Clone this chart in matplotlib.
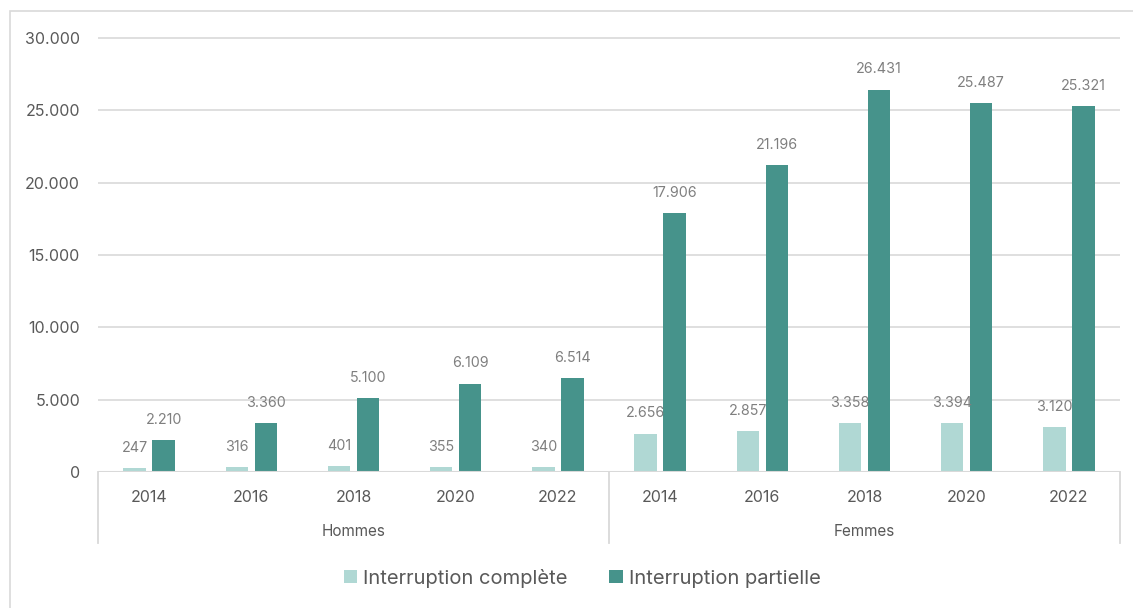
import matplotlib.pyplot as plt
from matplotlib.patches import Rectangle
from matplotlib.transforms import blended_transform_factory
import numpy as np

plt.rcParams['font.family'] = ['Inter', 'DejaVu Sans']

years = ['2014', '2016', '2018', '2020', '2022']
groups = ['Hommes', 'Femmes']
complete_h = [247, 316, 401, 355, 340]
partial_h = [2210, 3360, 5100, 6109, 6514]
complete_f = [2656, 2857, 3358, 3394, 3120]
partial_f = [17906, 21196, 26431, 25487, 25321]

light = '#b0d8d4'
dark = '#46938b'
grid_c = '#d9d9d9'
txt = '#595959'
lbl = '#7f7f7f'

def fmt(v):
    return f'{v:,}'.replace(',', '.')

complete = complete_h + complete_f
partial = partial_h + partial_f
x = np.arange(len(complete))

fig = plt.figure(figsize=(11.33, 6.08), dpi=100)
fig.patches.append(Rectangle((10/1133, -0.1), 1.2, (608-11)/608 + 0.1,
                             transform=fig.transFigure, fill=False,
                             edgecolor='#d9d9d9', lw=1.2))
ax = fig.add_axes([98/1133, 136/608, 1022/1133, 448.5/608])

off = 0.142
w = 0.218
b1 = ax.bar(x - off, complete, w, color=light, label='Interruption complète', zorder=3)
b2 = ax.bar(x + off, partial, w, color=dark, label='Interruption partielle', zorder=3)

for bars, vals in [(b1, complete), (b2, partial)]:
    for r, v in zip(bars, vals):
        ax.annotate(fmt(v), (r.get_x() + r.get_width()/2, v), xytext=(0, 14.5),
                    textcoords='offset points', ha='center', va='center',
                    fontsize=10.3, color=lbl)

ax.set_xlim(-0.5, 9.5)
ax.set_ylim(0, 31000)
ax.set_yticks(range(0, 30001, 5000))
ax.set_yticklabels([fmt(v) for v in range(0, 30001, 5000)], fontsize=11.5, color=txt)
ax.tick_params(axis='y', length=0, pad=13)
ax.set_xticks([])
ax.grid(axis='y', color=grid_c, lw=1.2, zorder=0)
for s in ax.spines.values():
    s.set_visible(False)
ax.axhline(0, color=grid_c, lw=1.5, zorder=4)

tr = blended_transform_factory(ax.transData, ax.transAxes)
for i, xi in enumerate(x):
    ax.text(xi, -25/448.5, years[i % 5], transform=tr, ha='center', va='center',
            fontsize=11.5, color=txt)
for g, name in enumerate(groups):
    ax.text(g*5 + 2, -60/448.5, name, transform=tr, ha='center', va='center',
            fontsize=11, color=txt)
for xs in [-0.5, 4.5, 9.5]:
    ax.plot([xs, xs], [0, -71/448.5], transform=tr, color=grid_c, lw=1.3, clip_on=False)

fig.legend(handles=[b1, b2], loc='center', bbox_to_anchor=(582/1133, 1 - 578/608),
           ncol=2, frameon=False, fontsize=14.5, labelcolor=txt,
           handlelength=0.65, handleheight=0.65, handletextpad=0.3, columnspacing=2.1)

fig.savefig('out.png', dpi=100)
